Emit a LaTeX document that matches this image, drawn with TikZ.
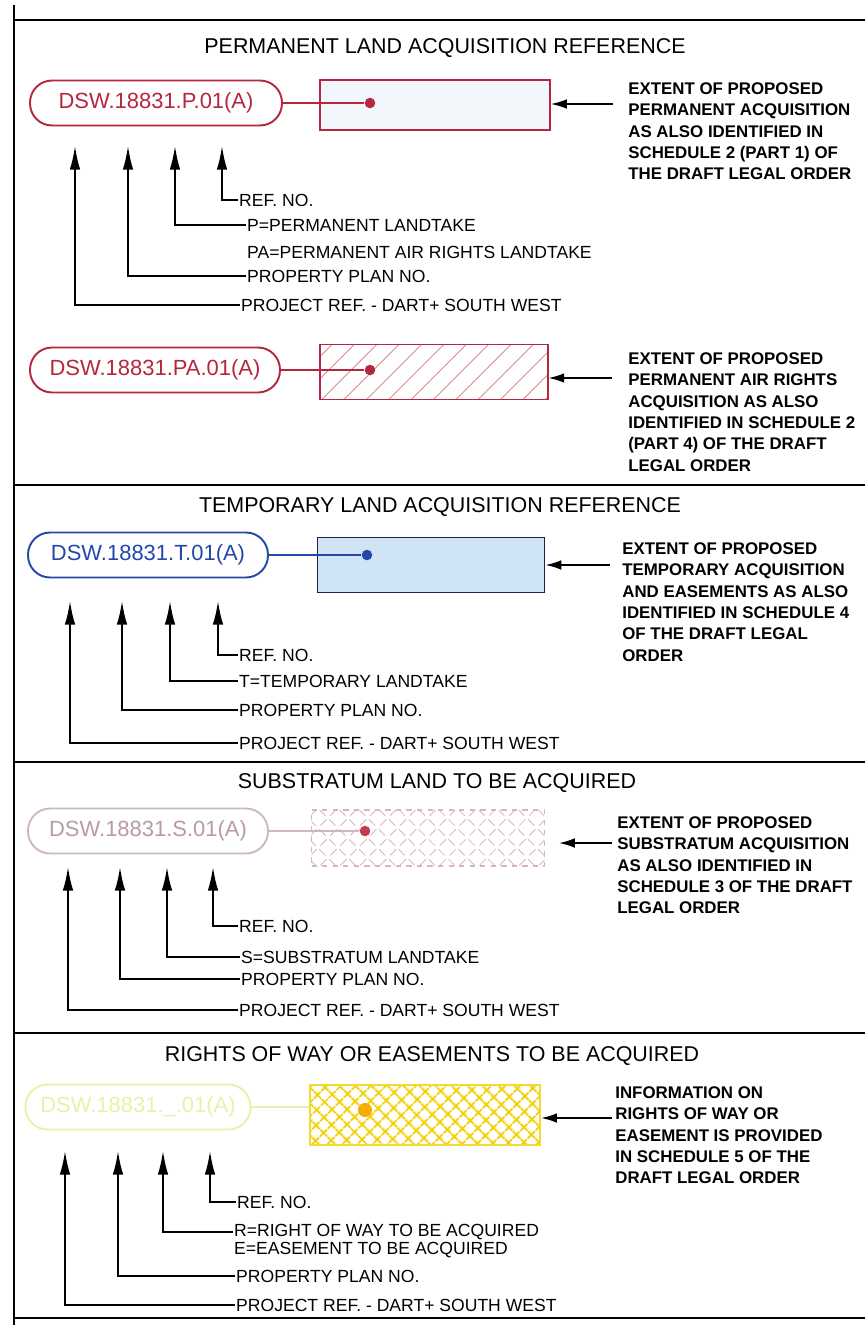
\documentclass[tikz,border=0pt]{standalone}
\usepackage{fontspec}
\setmainfont{Liberation Sans}
\usepackage{xcolor}
\usetikzlibrary{arrows.meta,positioning,patterns.meta}

\definecolor{permred}{HTML}{B5263F}
\definecolor{permfill}{HTML}{F3F6FA}
\definecolor{hatchred}{HTML}{D98A98}
\definecolor{tempblue}{HTML}{2447A8}
\definecolor{tempfill}{HTML}{CFE5F6}
\definecolor{tempedge}{HTML}{1B2246}
\definecolor{subpink}{HTML}{B89AA6}
\definecolor{subhatch}{HTML}{D9B3C2}
\definecolor{subdot}{HTML}{C33A4C}
\definecolor{rowpale}{HTML}{EDEFA6}
\definecolor{rowhatch}{HTML}{F2D000}
\definecolor{rowdot}{HTML}{F4AE00}

\begin{document}
\begin{tikzpicture}[x=0.02cm,y=-0.02cm,>=Latex,
  ttl/.style={font=\fontsize{12.2}{14}\selectfont},
  refpill/.style={draw,rounded corners=0.44cm,line width=1.1pt,minimum height=0.9cm,font=\fontsize{12.5}{14}\selectfont},
  area/.style={draw,line width=1.1pt,inner sep=0pt},
  pin/.style={circle,inner sep=0pt,minimum size=6pt},
  lbl/.style={anchor=west,inner sep=0.5pt,font=\fontsize{10}{12}\selectfont},
  desc/.style={anchor=north west,inner sep=0pt,align=left,font=\fontsize{9.6}{12.2}\selectfont\bfseries},
  uparr/.style={-{Latex[length=14pt,width=6pt]},line width=1.5pt},
  ptr/.style={-{Latex[length=9pt,width=5.5pt]},line width=1pt},
  rule/.style={line width=1.1pt}]
\useasboundingbox (0,0) rectangle (865,1325);

% frame
\draw[rule] (14,5) -- (14,1325);
\draw[rule] (14,20) -- (865,20);
\draw[rule] (14,485) -- (865,485);
\draw[rule] (14,762) -- (865,762);
\draw[rule] (14,1033) -- (865,1033);
\draw[rule] (14,1318) -- (865,1318);

% permanent
\node[ttl] (ttl1) at (445,48) {PERMANENT LAND ACQUISITION REFERENCE};
\node[refpill,draw=permred,text=permred,minimum width=5.04cm] (pill1) at (156,103) {DSW.18831.P.01(A)};
\node[area,draw=permred,fill=permfill,minimum width=4.6cm,minimum height=1cm] (box1) at (435,105) {};
\node[pin,fill=permred] (dot1) at (370,103) {};
\draw[permred,line width=0.8pt] (pill1) -- (dot1);
\node[desc] (desc1) at (628,82) {EXTENT OF PROPOSED\\PERMANENT ACQUISITION\\AS ALSO IDENTIFIED IN\\SCHEDULE 2 (PART 1) OF\\THE DRAFT LEGAL ORDER};
\coordinate (from1) at (613,104);
\draw[ptr] (from1) -- (from1 -| box1.east);

\coordinate (tip11) at (75,145);
\coordinate (tip12) at (128,145);
\coordinate (tip13) at (175,145);
\coordinate (tip14) at (222,145);
\node[lbl] (refno1) at (238,200) {REF. NO.};
\node[lbl] (type1) at (246,225) {P=PERMANENT LANDTAKE};
\node[lbl] (typeb1) at (246,252) {PA=PERMANENT AIR RIGHTS LANDTAKE};
\node[lbl] (plan1) at (246,276) {PROPERTY PLAN NO.};
\node[lbl] (proj1) at (240,305) {PROJECT REF. - DART+ SOUTH WEST};
\draw[uparr] (refno1.west) -| (tip14);
\draw[uparr] (type1.west) -| (tip13);
\draw[uparr] (plan1.west) -| (tip12);
\draw[uparr] (proj1.west) -| (tip11);

\node[refpill,draw=permred,text=permred,minimum width=5cm] (pill2) at (155,370) {DSW.18831.PA.01(A)};
\node[area,draw=permred,minimum width=4.56cm,minimum height=1.1cm,
  pattern={Lines[angle=45,distance=9pt,line width=0.5pt]},pattern color=hatchred] (box2) at (434,372) {};
\node[pin,fill=permred] (dot2) at (370,370) {};
\draw[permred,line width=0.8pt] (pill2) -- (dot2);
\node[desc] (desc2) at (628,352) {EXTENT OF PROPOSED\\PERMANENT AIR RIGHTS\\ACQUISITION AS ALSO\\IDENTIFIED IN SCHEDULE 2\\(PART 4) OF THE DRAFT\\LEGAL ORDER};
\coordinate (from2) at (612,378);
\draw[ptr] (from2) -- (from2 -| box2.east);

% temporary
\node[ttl] (ttl2) at (440,507) {TEMPORARY LAND ACQUISITION REFERENCE};
\node[refpill,draw=tempblue,text=tempblue,minimum width=4.8cm] (pill3) at (148,555) {DSW.18831.T.01(A)};
\node[area,draw=tempedge,fill=tempfill,minimum width=4.54cm,minimum height=1.1cm] (box3) at (431,565) {};
\node[pin,fill=tempblue] (dot3) at (367,555) {};
\draw[tempblue,line width=0.8pt] (pill3) -- (dot3);
\node[desc] (desc3) at (622,542) {EXTENT OF PROPOSED\\TEMPORARY ACQUISITION\\AND EASEMENTS AS ALSO\\IDENTIFIED IN SCHEDULE 4\\OF THE DRAFT LEGAL\\ORDER};
\coordinate (from3) at (610,565);
\draw[ptr] (from3) -- (from3 -| box3.east);

\coordinate (tip21) at (70,600);
\coordinate (tip22) at (122,600);
\coordinate (tip23) at (170,600);
\coordinate (tip24) at (218,600);
\node[lbl] (refno2) at (238,655) {REF. NO.};
\node[lbl] (type2) at (238,681) {T=TEMPORARY LANDTAKE};
\node[lbl] (plan2) at (238,710) {PROPERTY PLAN NO.};
\node[lbl] (proj2) at (238,743) {PROJECT REF. - DART+ SOUTH WEST};
\draw[uparr] (refno2.west) -| (tip24);
\draw[uparr] (type2.west) -| (tip23);
\draw[uparr] (plan2.west) -| (tip22);
\draw[uparr] (proj2.west) -| (tip21);

% substratum
\node[ttl] (ttl3) at (437,783) {SUBSTRATUM LAND TO BE ACQUIRED};
\node[refpill,draw=subpink!70,text=subpink,minimum width=4.8cm] (pill4) at (148,831) {DSW.18831.S.01(A)};
\node[area,draw=subhatch,dashed,line width=0.8pt,minimum width=4.66cm,minimum height=1.12cm,
  pattern={Hatch[angle=45,distance=8pt,line width=0.5pt]},pattern color=subhatch] (box4) at (428,838) {};
\node[pin,fill=subdot] (dot4) at (365,831) {};
\draw[subpink!70,line width=0.8pt] (pill4) -- (dot4);
\node[desc] (desc4) at (617,816) {EXTENT OF PROPOSED\\SUBSTRATUM ACQUISITION\\AS ALSO IDENTIFIED IN\\SCHEDULE 3 OF THE DRAFT\\LEGAL ORDER};
\coordinate (from4) at (612,843);
\draw[ptr,shorten >=8pt] (from4) -- (from4 -| box4.east);

\coordinate (tip31) at (68,866);
\coordinate (tip32) at (120,866);
\coordinate (tip33) at (167,866);
\coordinate (tip34) at (213,866);
\node[lbl] (refno3) at (238,926) {REF. NO.};
\node[lbl] (type3) at (240,957) {S=SUBSTRATUM LANDTAKE};
\node[lbl] (plan3) at (240,979) {PROPERTY PLAN NO.};
\node[lbl] (proj3) at (238,1010) {PROJECT REF. - DART+ SOUTH WEST};
\draw[uparr] (refno3.west) -| (tip34);
\draw[uparr] (type3.west) -| (tip33);
\draw[uparr] (plan3.west) -| (tip32);
\draw[uparr] (proj3.west) -| (tip31);

% rights of way
\node[ttl] (ttl4) at (432,1056) {RIGHTS OF WAY OR EASEMENTS TO BE ACQUIRED};
\node[refpill,draw=rowpale,text=rowpale,minimum width=4.5cm] (pill5) at (138,1107) {DSW.18831.\_.01(A)};
\node[area,draw=rowhatch!80,line width=0.8pt,minimum width=4.6cm,minimum height=1.2cm,
  pattern={Hatch[angle=45,distance=6.5pt,line width=1.3pt]},pattern color=rowhatch] (box5) at (425,1115) {};
\draw[rowpale,line width=0.8pt] (pill5) -- (box5.west |- pill5);
\node[pin,fill=rowdot,minimum size=8pt] (dot5) at (365,1110) {};
\node[desc] (desc5) at (615,1086) {INFORMATION ON\\RIGHTS OF WAY OR\\EASEMENT IS PROVIDED\\IN SCHEDULE 5 OF THE\\DRAFT LEGAL ORDER};
\coordinate (from5) at (612,1118);
\draw[ptr] (from5) -- (from5 -| box5.east);

\coordinate (tip41) at (65,1150);
\coordinate (tip42) at (118,1150);
\coordinate (tip43) at (163,1150);
\coordinate (tip44) at (210,1150);
\node[lbl] (refno4) at (236,1202) {REF. NO.};
\node[lbl] (type4) at (233,1232) {R=RIGHT OF WAY TO BE ACQUIRED};
\node[lbl] (typeb4) at (233,1250) {E=EASEMENT TO BE ACQUIRED};
\node[lbl] (plan4) at (235,1276) {PROPERTY PLAN NO.};
\node[lbl] (proj4) at (235,1305) {PROJECT REF. - DART+ SOUTH WEST};
\draw[uparr] (refno4.west) -| (tip44);
\draw[uparr] (type4.west) -| (tip43);
\draw[uparr] (plan4.west) -| (tip42);
\draw[uparr] (proj4.west) -| (tip41);
\end{tikzpicture}
\end{document}
